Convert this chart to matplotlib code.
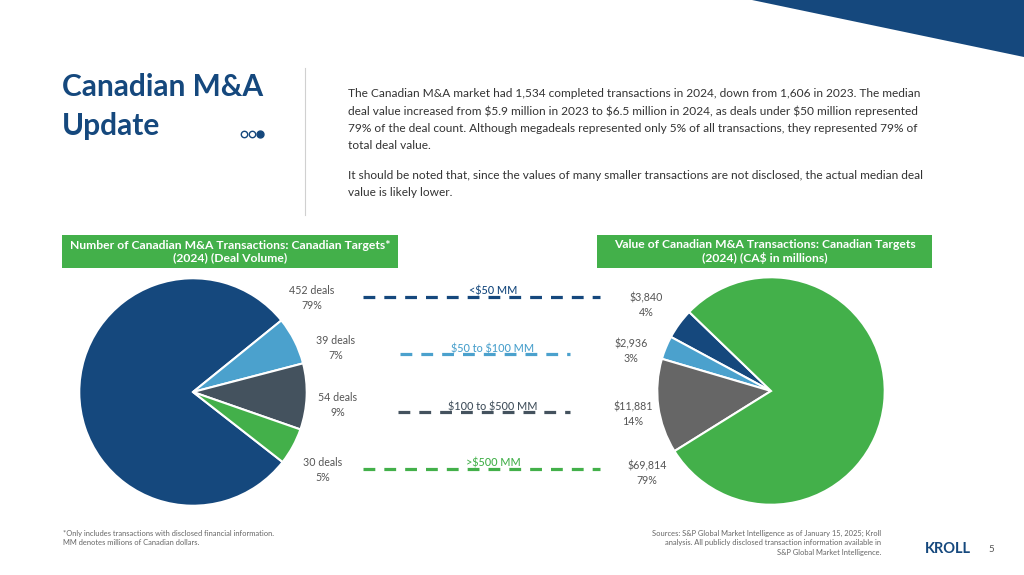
import matplotlib
matplotlib.use("Agg")
import matplotlib.pyplot as plt
from matplotlib.patches import Polygon, Rectangle
from matplotlib.lines import Line2D

plt.rcParams['font.family'] = ['Lato', 'DejaVu Sans']
plt.rcParams['lines.scale_dashes'] = False
plt.rcParams['text.parse_math'] = False

# ---- data ----
categories = ["<$50 MM", "$50 to $100 MM", "$100 to $500 MM", ">$500 MM"]
deal_counts = [452, 39, 54, 30]
deal_pcts = [79, 7, 9, 5]
deal_values = [3840, 2936, 11881, 69814]
value_pcts = [4, 3, 14, 79]

title_text = "Canadian M&A\nUpdate"
para1 = ("The Canadian M&A market had 1,534 completed transactions in 2024, down from 1,606 in 2023. The median\n"
         "deal value increased from $5.9 million in 2023 to $6.5 million in 2024, as deals under $50 million represented\n"
         "79% of the deal count. Although megadeals represented only 5% of all transactions, they represented 79% of\n"
         "total deal value.")
para2 = ("It should be noted that, since the values of many smaller transactions are not disclosed, the actual median deal\n"
         "value is likely lower.")
left_header = "Number of Canadian M&A Transactions: Canadian Targets*\n(2024) (Deal Volume)"
right_header = "Value of Canadian M&A Transactions: Canadian Targets\n(2024) (CA$ in millions)"
foot_left = "*Only includes transactions with disclosed financial information.\nMM denotes millions of Canadian dollars."
foot_right = ("Sources: S&P Global Market Intelligence as of January 15, 2025; Kroll\n"
              "analysis. All publicly disclosed transaction information available in\n"
              "S&P Global Market Intelligence.")

DARK = "#15487D"
LIGHT = "#4BA1CD"
SLATE = "#44525E"
GREEN = "#43B04A"
GRAY = "#666666"
TXT = "#555555"

left_colors = [DARK, LIGHT, SLATE, GREEN]
right_colors = [DARK, LIGHT, GRAY, GREEN]

W, H = 1024, 575
fig = plt.figure(figsize=(W / 100, H / 100), dpi=100)
fig.patch.set_facecolor("white")

ov = fig.add_axes([0, 0, 1, 1])
ov.set_xlim(0, W)
ov.set_ylim(H, 0)
ov.axis("off")

# top-right triangle
ov.add_patch(Polygon([[752, 0], [1024, 0], [1024, 57]], closed=True, color=DARK, lw=0))

# title
ov.text(62, 73, title_text, fontsize=21.5, fontweight="bold", color=DARK, va="top",
        linespacing=1.5)
# dots
ov.plot([243.5, 251.5], [134, 134], 'o', ms=4.6, mfc="white", mec=DARK, mew=1.0)
ov.plot([260], [134], 'o', ms=5.0, color=DARK)

# vertical separator
ov.plot([305, 305], [68, 215], color="#d0d0d0", lw=0.8)

# paragraph
ov.text(348, 88, para1, fontsize=8.55, color="#333333", va="top", linespacing=1.68)
ov.text(348, 170, para2, fontsize=8.55, color="#333333", va="top", linespacing=1.68)

# headers
for (x0, x1, txt) in [(62, 398, left_header), (597, 932, right_header)]:
    ov.add_patch(Rectangle((x0, 235), x1 - x0, 33, color=GREEN, lw=0))
    ov.text((x0 + x1) / 2, 251.5, txt, fontsize=8.7, fontweight="bold", color="white",
            ha="center", va="center", linespacing=1.15)

# pies
def pie_axes(cx, cy, r):
    return fig.add_axes([(cx - r) / W, (H - cy - r) / H, 2 * r / W, 2 * r / H])

axl = pie_axes(193, 392, 116)
axl.pie(deal_counts, colors=left_colors, startangle=322, counterclock=False, radius=1,
        wedgeprops=dict(edgecolor="white", linewidth=1.5))
axl.set_xlim(-1.02, 1.02); axl.set_ylim(-1.02, 1.02)
axl.axis("off")

axr = pie_axes(771, 391, 116)
axr.pie(deal_values, colors=right_colors, startangle=136, counterclock=True, radius=1,
        wedgeprops=dict(edgecolor="white", linewidth=1.5))
axr.set_xlim(-1.02, 1.02); axr.set_ylim(-1.02, 1.02)
axr.axis("off")

# left pie labels
left_label_pos = [(312, 298), (336, 348), (338, 405), (323, 470)]
for (x, y), n, p in zip(left_label_pos, deal_counts, deal_pcts):
    ov.text(x, y, f"{n} deals\n{p}%", fontsize=7.7, color=TXT, ha="center", va="center",
            linespacing=1.45)

# right pie labels
right_label_pos = [(646, 305), (631, 351), (633, 414), (647, 473)]
for (x, y), v, p in zip(right_label_pos, deal_values, value_pcts):
    ov.text(x, y, f"${v:,}\n{p}%", fontsize=7.7, color=TXT, ha="center", va="center",
            linespacing=1.45)

# legend dashed lines
leg_y = [297, 354, 412, 469]
leg_x = [(363, 600), (400, 570), (398, 570), (363, 600)]
leg_col = [DARK, LIGHT, SLATE, GREEN]
for cat, y, (x0, x1), c in zip(categories, leg_y, leg_x, leg_col):
    ov.add_line(Line2D([x0, x1], [y, y], color=c, lw=2.3, dashes=(8.5, 6.5),
                       dash_capstyle="butt"))
    ov.text(493, y - 2, cat, fontsize=7.8, color=c, ha="center", va="baseline",
            fontweight="medium")

# footnotes
ov.text(63, 530, foot_left, fontsize=5.4, color="#666666", va="top", linespacing=1.4)
ov.text(881, 530, foot_right, fontsize=5.4, color="#666666", va="top", ha="right",
        linespacing=1.4)

# logo + page number
ov.text(925, 549, "KROLL", fontsize=10.5, fontweight="bold", color=DARK, va="center")
ov.text(988, 549, "5", fontsize=7, color="#555555", va="center")

fig.savefig("out.png", dpi=100, facecolor="white")
